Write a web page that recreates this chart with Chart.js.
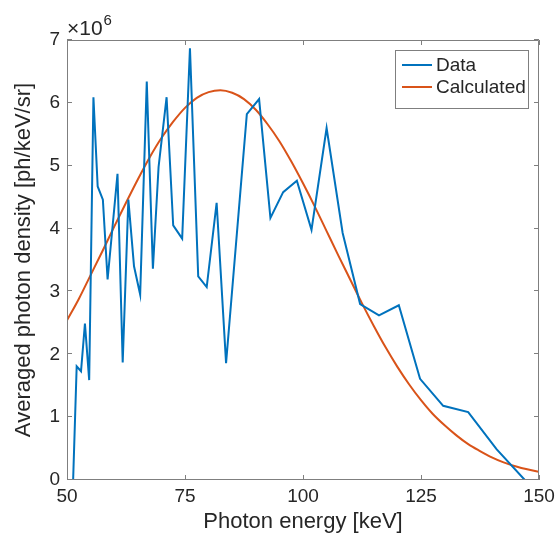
<!DOCTYPE html>
<html>
<head>
<meta charset="utf-8">
<script src="https://cdn.jsdelivr.net/npm/chart.js@4/dist/chart.umd.min.js"></script>
<style>
  html, body { margin: 0; padding: 0; background: #ffffff; }
  #wrap { width: 560px; height: 538px; position: relative; }
</style>
</head>
<body>
<div id="wrap"><canvas id="c" width="560" height="538"></canvas></div>
<script>
// ---- Data (densities in units of 10^6 ph/keV/sr) ----
const dataEnergy = [51.3, 52.05, 52.97, 53.8, 54.7, 55.6, 56.5, 57.6, 58.6, 60.7,
  61.8, 63.0, 64.2, 65.5, 66.9, 68.2, 69.4, 71.1, 72.5, 74.4,
  76.05, 77.8, 79.6, 81.7, 83.7, 88.1, 90.7, 93.1, 95.8, 98.7,
  101.8, 105.0, 108.4, 112.1, 116.1, 120.3, 124.8, 129.7, 135.0, 141.0, 147.0];
const dataDensity = [0, 1.81, 1.73, 2.49, 1.59, 6.09, 4.67, 4.46, 3.19, 4.87,
  1.87, 4.46, 3.40, 2.95, 6.34, 3.36, 4.98, 6.09, 4.05, 3.84,
  6.87, 3.24, 3.07, 4.41, 1.86, 5.82, 6.06, 4.17, 4.58, 4.76,
  3.98, 5.60, 3.93, 2.80, 2.62, 2.78, 1.61, 1.18, 1.08, 0.49, 0];

const calcEnergy = [50, 52.5, 55, 57.5, 60, 62.5, 65, 67.5, 70, 72.5,
  75, 77.5, 80, 82.5, 85, 87.5, 90, 92.5, 95, 97.5,
  100, 102.5, 105, 107.5, 110, 112.5, 115, 117.5, 120, 122.5,
  125, 127.5, 130, 132.5, 135, 137.5, 140, 142.5, 145, 147.5, 150];
const calcDensity = [2.54, 2.88, 3.26, 3.64, 4.03, 4.41, 4.78, 5.13, 5.44, 5.70,
  5.92, 6.08, 6.17, 6.20, 6.16, 6.06, 5.89, 5.66, 5.39, 5.07,
  4.72, 4.35, 3.96, 3.57, 3.19, 2.81, 2.45, 2.11, 1.80, 1.52,
  1.27, 1.05, 0.87, 0.71, 0.57, 0.46, 0.36, 0.28, 0.22, 0.17, 0.13];

const seriesLabels = ['Data', 'Calculated'];
const seriesColors = ['#0072BD', '#D95319'];
const xTicks = [50, 75, 100, 125, 150];
const yTicks = [0, 1, 2, 3, 4, 5, 6, 7];
const xTitle = 'Photon energy [keV]';
const yTitle = 'Averaged photon density [ph/keV/sr]';
const yExponent = '6';

const FONT = '"Liberation Sans", Helvetica, Arial, sans-serif';
const TEXT = '#262626';
const AXIS = '#7f7f7f';

Chart.defaults.font.family = FONT;
Chart.defaults.color = TEXT;

const toXY = (xs, ys) => xs.map((x, i) => ({ x: x, y: ys[i] }));

const decorPlugin = {
  id: 'matlabDecor',
  afterDatasetsDraw(chart) {
    const ctx = chart.ctx;
    const a = chart.chartArea;
    const xs = chart.scales.x, ys = chart.scales.y;
    ctx.save();
    // box
    ctx.strokeStyle = AXIS;
    ctx.lineWidth = 1;
    ctx.beginPath();
    ctx.moveTo(a.left + 0.5, a.top + 0.5);
    ctx.lineTo(a.right - 0.5, a.top + 0.5);
    ctx.lineTo(a.right - 0.5, a.bottom - 0.5);
    ctx.moveTo(a.left + 0.5, a.top + 0.5);
    ctx.lineTo(a.left + 0.5, a.bottom - 0.5);
    ctx.lineTo(a.right - 0.5, a.bottom - 0.5);
    ctx.stroke();
    // inward ticks
    const tl = 5;
    ctx.beginPath();
    xTicks.forEach(v => {
      const px = Math.round(xs.getPixelForValue(v)) + 0.5;
      ctx.moveTo(px, a.bottom); ctx.lineTo(px, a.bottom - tl);
      ctx.moveTo(px, a.top); ctx.lineTo(px, a.top + tl);
    });
    yTicks.forEach(v => {
      const py = Math.round(ys.getPixelForValue(v)) - 0.5;
      ctx.moveTo(a.left, py); ctx.lineTo(a.left + tl, py);
      ctx.moveTo(a.right, py); ctx.lineTo(a.right - tl, py);
    });
    ctx.stroke();

    // exponent label
    ctx.fillStyle = TEXT;
    ctx.textBaseline = 'alphabetic';
    ctx.textAlign = 'left';
    ctx.font = '21px ' + FONT;
    ctx.fillText('\u00d710', 67, 35);
    const w = ctx.measureText('\u00d710').width;
    ctx.font = '15px ' + FONT;
    ctx.fillText(yExponent, 67 + w + 1, 25);

    // legend
    const lx = 395.5, ly = 50.5, lw = 133, lh = 58;
    ctx.fillStyle = '#ffffff';
    ctx.fillRect(lx, ly, lw, lh);
    ctx.strokeStyle = AXIS;
    ctx.lineWidth = 1;
    ctx.strokeRect(lx, ly, lw, lh);
    ctx.font = '19px ' + FONT;
    ctx.textBaseline = 'middle';
    chart.data.datasets.forEach((ds, i) => {
      const cy = 65 + i * 22;
      ctx.strokeStyle = ds.borderColor;
      ctx.lineWidth = 2;
      ctx.beginPath();
      ctx.moveTo(402, cy);
      ctx.lineTo(432, cy);
      ctx.stroke();
      ctx.fillStyle = TEXT;
      ctx.fillText(ds.label, 436, cy + 1);
    });
    ctx.restore();
  }
};

new Chart(document.getElementById('c'), {
  type: 'line',
  data: {
    datasets: [
      {
        label: seriesLabels[0],
        data: toXY(dataEnergy, dataDensity),
        borderColor: seriesColors[0],
        backgroundColor: seriesColors[0],
        borderWidth: 2,
        pointRadius: 0,
        tension: 0,
        borderJoinStyle: 'miter'
      },
      {
        label: seriesLabels[1],
        data: toXY(calcEnergy, calcDensity),
        borderColor: seriesColors[1],
        backgroundColor: seriesColors[1],
        borderWidth: 2,
        pointRadius: 0,
        cubicInterpolationMode: 'monotone'
      }
    ]
  },
  options: {
    responsive: false,
    animation: false,
    devicePixelRatio: 1,
    layout: { padding: { top: 40, right: 21, left: 0, bottom: 0 } },
    plugins: {
      legend: { display: false },
      tooltip: { enabled: false }
    },
    scales: {
      x: {
        type: 'linear',
        min: 50, max: 150,
        afterBuildTicks: s => { s.ticks = xTicks.map(v => ({ value: v })); },
        afterFit: s => { s.height = 58; },
        grid: { display: true, drawOnChartArea: false, drawTicks: false },
        border: { display: false },
        ticks: { color: TEXT, font: { size: 19 }, padding: 5, maxRotation: 0 },
        title: { display: true, text: xTitle, color: TEXT, font: { size: 22 }, padding: { top: 0, bottom: 3 } }
      },
      y: {
        type: 'linear',
        min: 0, max: 7,
        afterBuildTicks: s => { s.ticks = yTicks.map(v => ({ value: v })); },
        afterFit: s => { s.width = 67; },
        grid: { display: true, drawOnChartArea: false, drawTicks: false },
        border: { display: false },
        ticks: { color: TEXT, font: { size: 19 }, padding: 7 },
        title: { display: true, text: yTitle, color: TEXT, font: { size: 22 }, padding: { top: 11, bottom: 0 } }
      }
    }
  },
  plugins: [decorPlugin]
});
</script>
</body>
</html>
